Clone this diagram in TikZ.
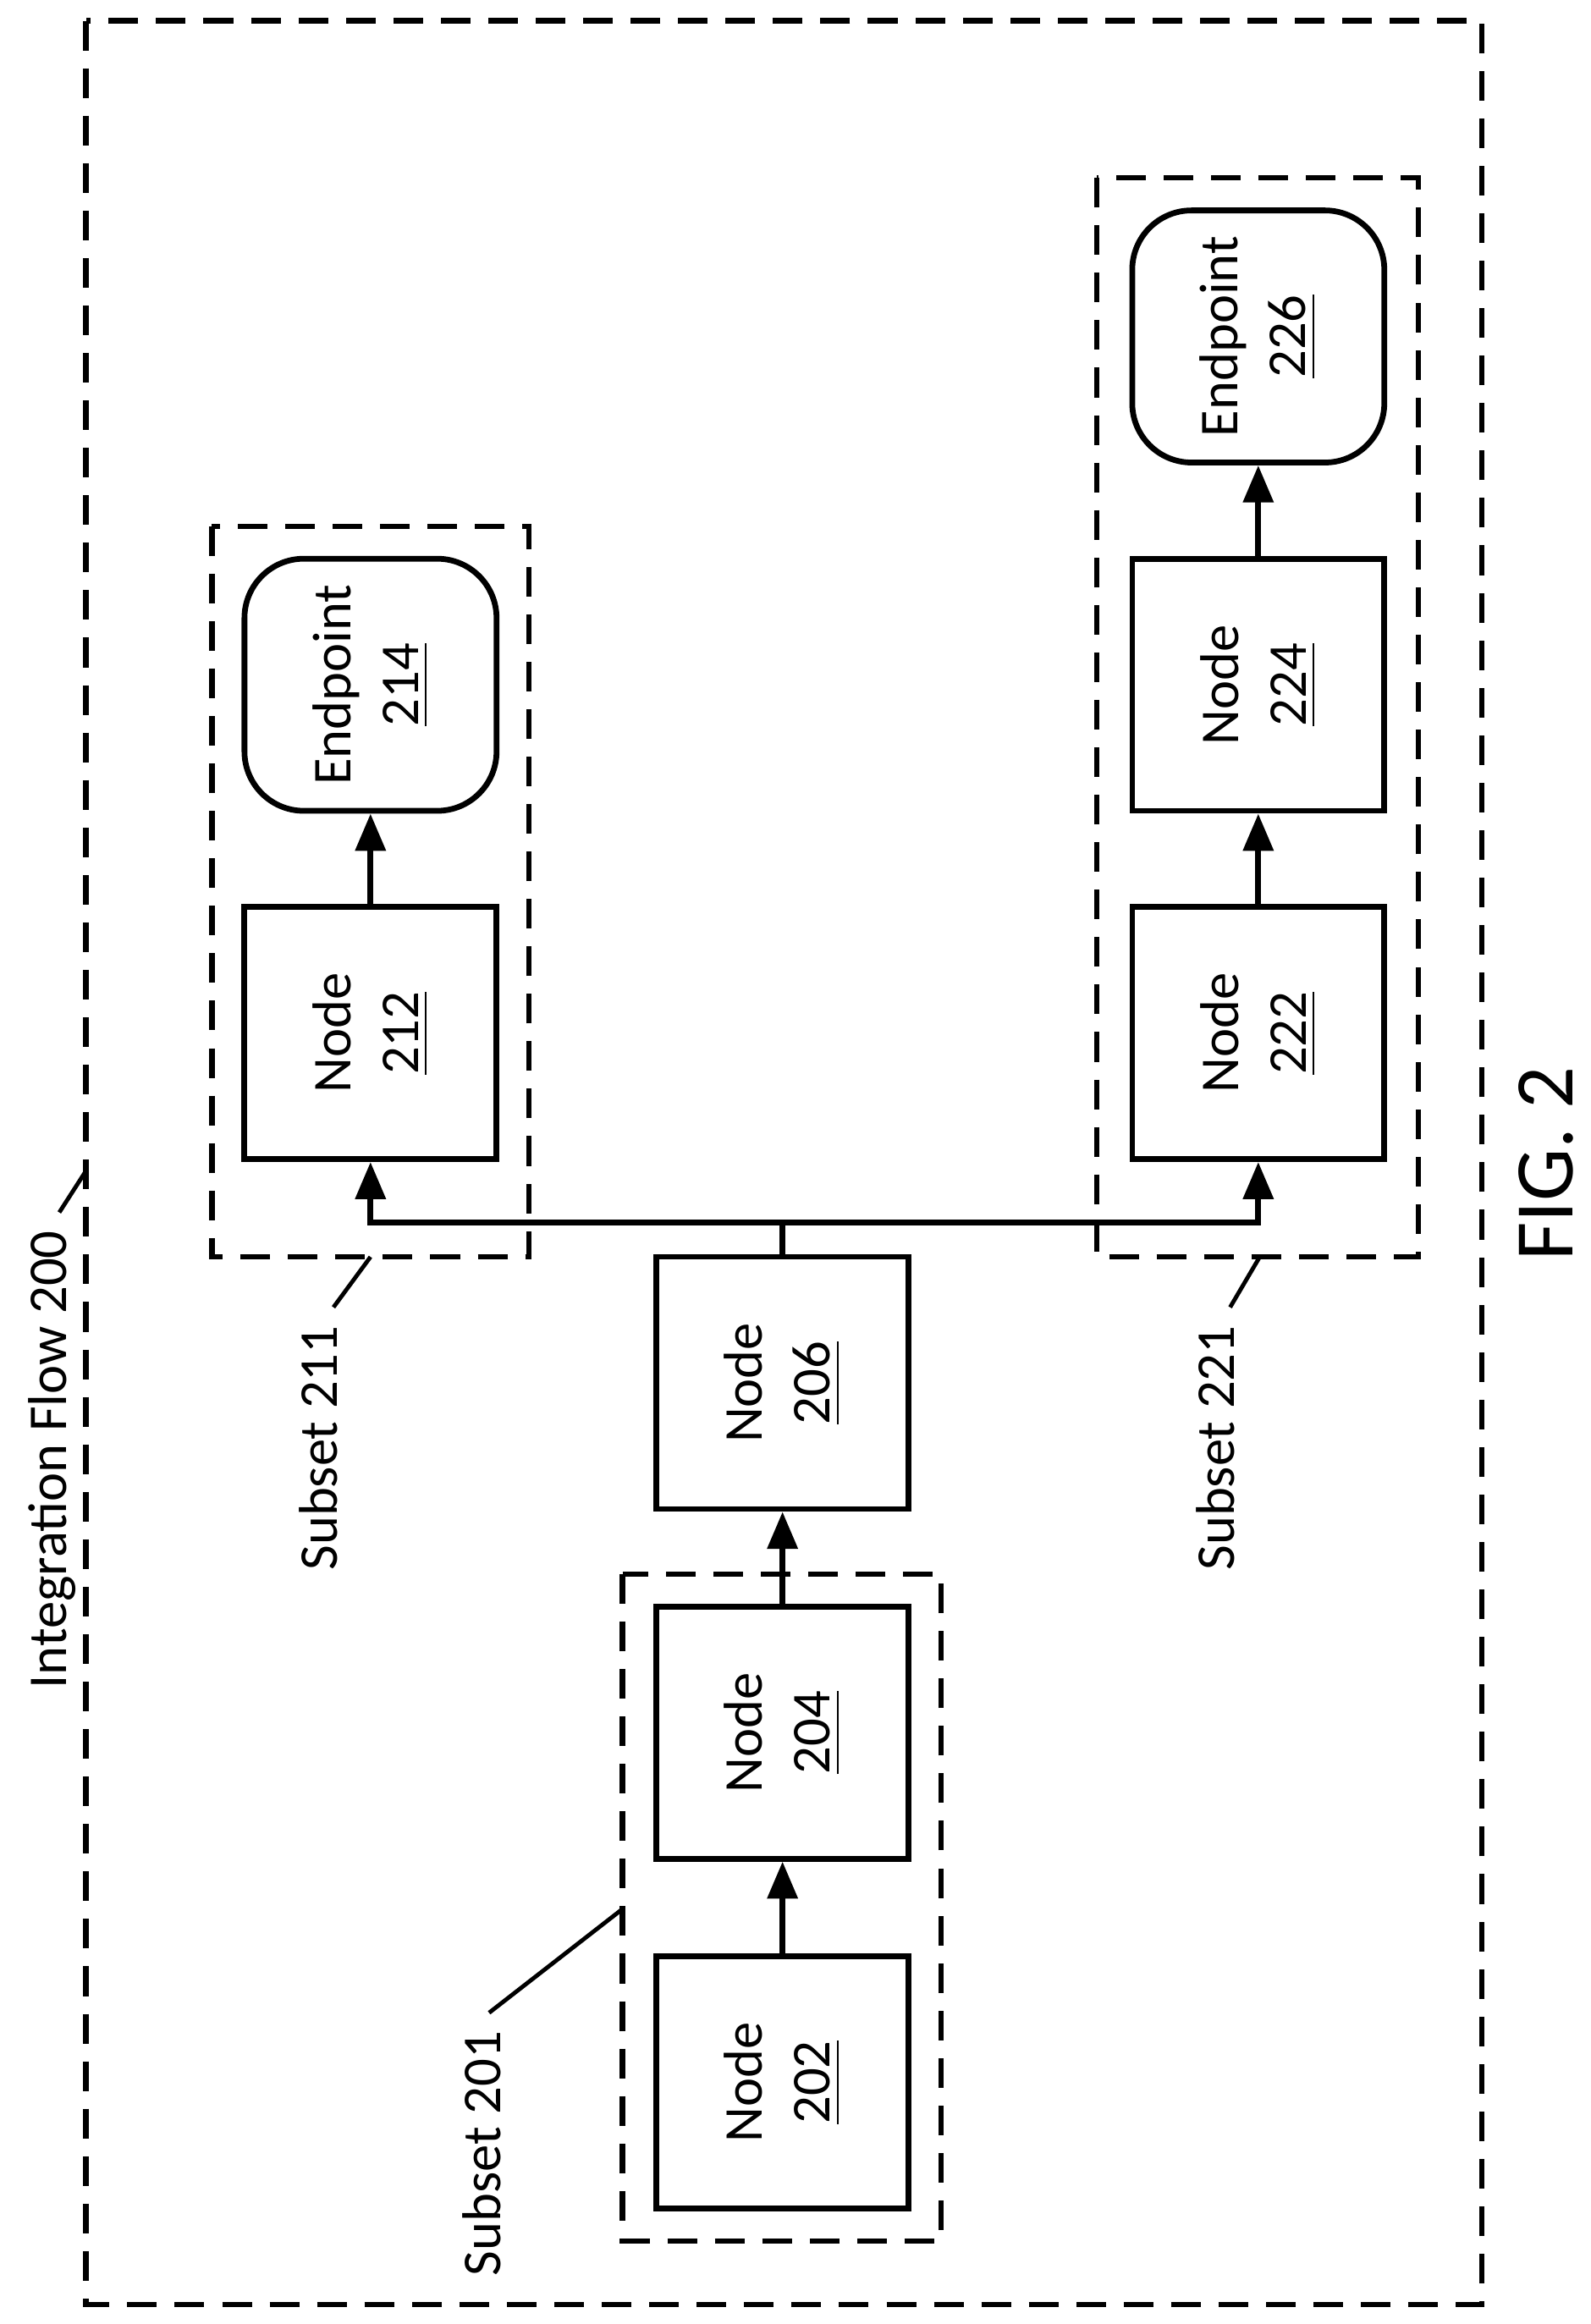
\documentclass[tikz,border=0pt]{standalone}
\usepackage{fontspec}
\setmainfont{Carlito}
\usetikzlibrary{arrows.meta}
\begin{document}
\begin{tikzpicture}[x=0.01cm,y=-0.01cm,
  box/.style={draw,line width=1.1pt,minimum width=1.7cm,minimum height=1.7cm,inner sep=0pt},
  ep/.style={box,rounded corners=0.4cm},
  txt/.style={rotate=90,font=\fontsize{10.5}{13}\selectfont,align=center},
  grp/.style={draw,line width=1pt,dash pattern=on 0.2cm off 0.12cm},
  arr/.style={line width=1.1pt,-{Triangle[length=0.25cm,width=0.2cm]}},
  lead/.style={line width=0.8pt}]
\useasboundingbox (0,0) rectangle (1073,1568);
\draw[grp] (58,14) rectangle (1000,1555);
\draw[grp] (420,1062) rectangle (635,1512);
\draw[grp] (143,355) rectangle (357,848);
\draw[grp] (740,120) rectangle (957,848);
\node[box] (n202) at (528,1405) {};
\node[txt] at (n202) {Node\\\underline{202}};
\node[box] (n204) at (528,1169) {};
\node[txt] at (n204) {Node\\\underline{204}};
\node[box] (n206) at (528,933) {};
\node[txt] at (n206) {Node\\\underline{206}};
\node[box] (n212) at (250,697) {};
\node[txt] at (n212) {Node\\\underline{212}};
\node[ep] (e214) at (250,462) {};
\node[txt] at (e214) {Endpoint\\\underline{214}};
\node[box] (n222) at (849,697) {};
\node[txt] at (n222) {Node\\\underline{222}};
\node[box] (n224) at (849,462) {};
\node[txt] at (n224) {Node\\\underline{224}};
\node[ep] (e226) at (849,227) {};
\node[txt] at (e226) {Endpoint\\\underline{226}};
\draw[arr] (n202) -- (n204);
\draw[arr] (n204) -- (n206);
\coordinate (j) at (528,825);
\draw[line width=1.1pt] (n206.north) -- (j);
\draw[arr] (j) -| (n212.south);
\draw[arr] (j) -| (n222.south);
\draw[arr] (n212) -- (e214);
\draw[arr] (n222) -- (n224);
\draw[arr] (n224) -- (e226);
\node[rotate=90,anchor=east,font=\fontsize{10.5}{13}\selectfont] (l200) at (35,818) {Integration Flow 200};
\node[rotate=90,anchor=east,font=\fontsize{10.5}{13}\selectfont] (l211) at (215,882) {Subset 211};
\node[rotate=90,anchor=east,font=\fontsize{10.5}{13}\selectfont] (l221) at (820,882) {Subset 221};
\node[rotate=90,anchor=east,font=\fontsize{10.5}{13}\selectfont] (l201) at (325,1358) {Subset 201};
\draw[lead] (l200.east) ++(5,0) -- (58,790);
\draw[lead] (l211.east) ++(10,0) -- (250,848);
\draw[lead] (l221.east) ++(10,0) -- (850,848);
\draw[lead] (l201.east) ++(5,0) -- (420,1288);
\node[rotate=90,font=\fontsize{16}{19}\selectfont] (fig) at (1043,785) {FIG. 2};
\end{tikzpicture}
\end{document}
